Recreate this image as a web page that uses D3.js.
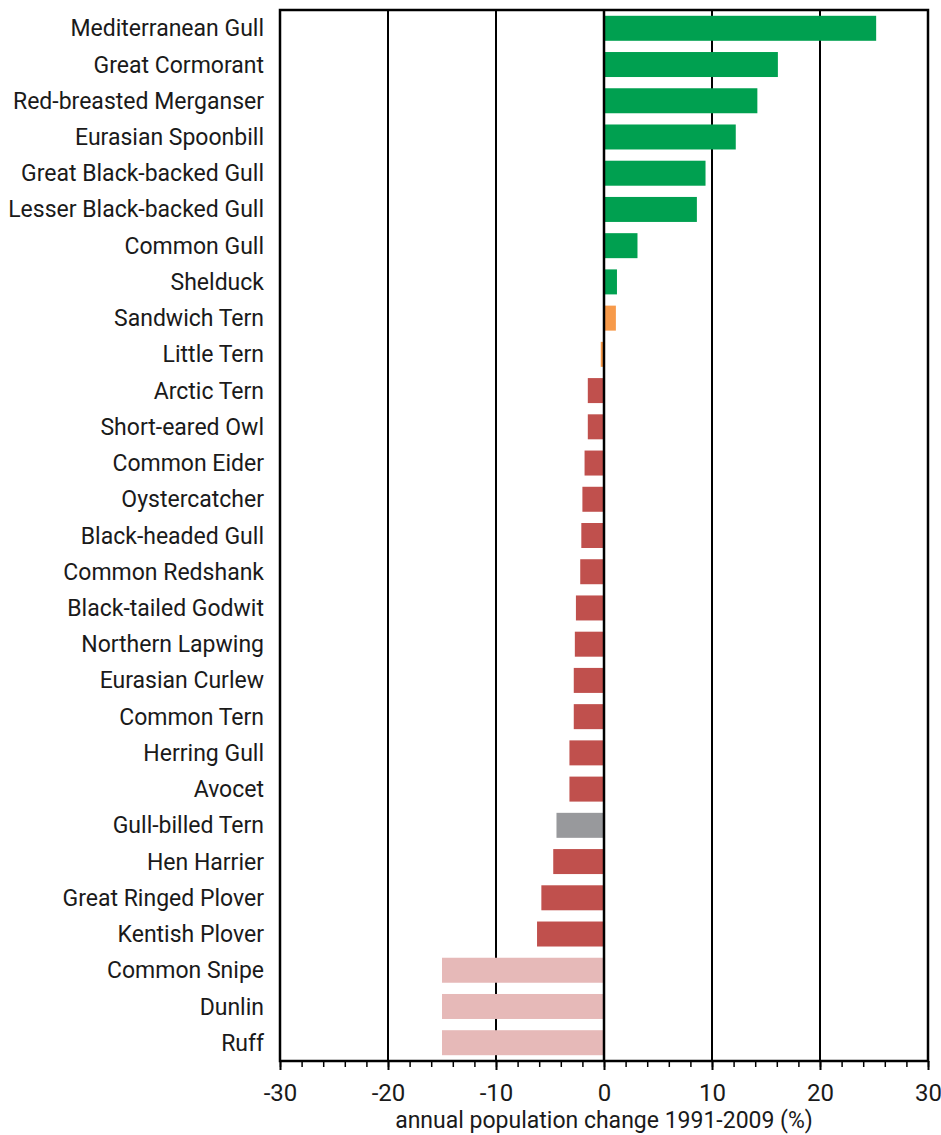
<!DOCTYPE html>
<html>
<head>
<meta charset="utf-8">
<script src="https://cdn.jsdelivr.net/npm/d3@7"></script>
<style>
  body { margin: 0; background: #fff; }
  text { font-family: Roboto, sans-serif; fill: #1a1a1a; }
</style>
</head>
<body>
<script>
var species = ["Mediterranean Gull", "Great Cormorant", "Red-breasted Merganser", "Eurasian Spoonbill",
  "Great Black-backed Gull", "Lesser Black-backed Gull", "Common Gull", "Shelduck", "Sandwich Tern",
  "Little Tern", "Arctic Tern", "Short-eared Owl", "Common Eider", "Oystercatcher", "Black-headed Gull",
  "Common Redshank", "Black-tailed Godwit", "Northern Lapwing", "Eurasian Curlew", "Common Tern",
  "Herring Gull", "Avocet", "Gull-billed Tern", "Hen Harrier", "Great Ringed Plover", "Kentish Plover",
  "Common Snipe", "Dunlin", "Ruff"]
var change = [25.2, 16.1, 14.2, 12.2, 9.4, 8.6, 3.1, 1.2, 1.1,
  -0.3, -1.5, -1.5, -1.8, -2.0, -2.1,
  -2.2, -2.6, -2.7, -2.8, -2.8,
  -3.2, -3.2, -4.4, -4.7, -5.8, -6.2,
  -15, -15, -15]
var group = ["up", "up", "up", "up", "up", "up", "up", "up", "stable",
  "stable", "down", "down", "down", "down", "down",
  "down", "down", "down", "down", "down",
  "down", "down", "unknown", "down", "down", "down",
  "gone", "gone", "gone"]
var groupColors = {up: "#00a050", stable: "#f79a4a", down: "#c0504d", unknown: "#98999c", gone: "#e6b9b8"}
var majorTicks = [-30, -20, -10, 0, 10, 20, 30]
var minorTicks = d3.range(-30, 31, 2)

var drawChart = function() {
  var data = species.map(function(s, i) {
    return {name: s, value: change[i], group: group[i]}
  })

  var width = 941, height = 1135
  var pLeft = 280, pRight = 928, pTop = 10, pBottom = 1061

  var svg = d3.select("body").append("svg")
    .attr("width", width)
    .attr("height", height)

  var xScale = d3.scaleLinear().domain([-30, 30]).range([pLeft, pRight])
  var yScale = d3.scaleBand().domain(species).range([pTop, pBottom]).paddingInner(0.31).paddingOuter(0.16)

  // grid lines
  svg.selectAll("line.grid")
    .data(majorTicks.slice(1, -1))
    .enter().append("line")
    .attr("class", "grid")
    .attr("x1", function(d) { return xScale(d) })
    .attr("x2", function(d) { return xScale(d) })
    .attr("y1", pTop)
    .attr("y2", pBottom)
    .attr("stroke", "#000")
    .attr("stroke-width", 2)

  // bars
  svg.selectAll("rect.bar")
    .data(data)
    .enter().append("rect")
    .attr("class", "bar")
    .attr("x", function(d) { return xScale(Math.min(0, d.value)) })
    .attr("width", function(d) { return Math.abs(xScale(d.value) - xScale(0)) })
    .attr("y", function(d) { return yScale(d.name) })
    .attr("height", yScale.bandwidth())
    .attr("fill", function(d) { return groupColors[d.group] })

  // zero line on top of bars
  svg.append("line")
    .attr("x1", xScale(0)).attr("x2", xScale(0))
    .attr("y1", pTop).attr("y2", pBottom)
    .attr("stroke", "#000").attr("stroke-width", 2.5)

  // frame
  svg.append("rect")
    .attr("x", pLeft).attr("y", pTop)
    .attr("width", pRight - pLeft).attr("height", pBottom - pTop)
    .attr("fill", "none").attr("stroke", "#000").attr("stroke-width", 2.5)

  // category labels
  svg.selectAll("text.label")
    .data(data)
    .enter().append("text")
    .attr("class", "label")
    .attr("x", pLeft - 16)
    .attr("y", function(d) { return yScale(d.name) + yScale.bandwidth() / 2 })
    .attr("dy", "0.35em")
    .attr("text-anchor", "end")
    .attr("font-size", 23)
    .text(function(d) { return d.name })

  // x axis: minor ticks then major ticks with labels
  var minorAxis = d3.axisBottom(xScale).tickValues(minorTicks).tickSize(6).tickFormat("")
  svg.append("g")
    .attr("transform", "translate(0," + pBottom + ")")
    .call(minorAxis)
    .call(function(g) { g.select(".domain").remove() })
    .selectAll("line").attr("stroke", "#000").attr("stroke-width", 1.5)

  var xAxis = d3.axisBottom(xScale).tickValues(majorTicks).tickSize(9).tickPadding(14)
    .tickFormat(function(d) { return d < 0 ? "-" + Math.abs(d) : d })
  var gx = svg.append("g")
    .attr("transform", "translate(0," + pBottom + ")")
    .call(xAxis)
  gx.select(".domain").remove()
  gx.selectAll("line").attr("stroke", "#000").attr("stroke-width", 2)
  gx.selectAll("text").attr("font-size", 24).attr("font-family", "Roboto, sans-serif").attr("fill", "#1a1a1a")

  svg.append("text")
    .attr("x", xScale(0))
    .attr("y", 1128)
    .attr("text-anchor", "middle")
    .attr("font-size", 23)
    .text("annual population change 1991-2009 (%)")
}

drawChart()
</script>
</body>
</html>
